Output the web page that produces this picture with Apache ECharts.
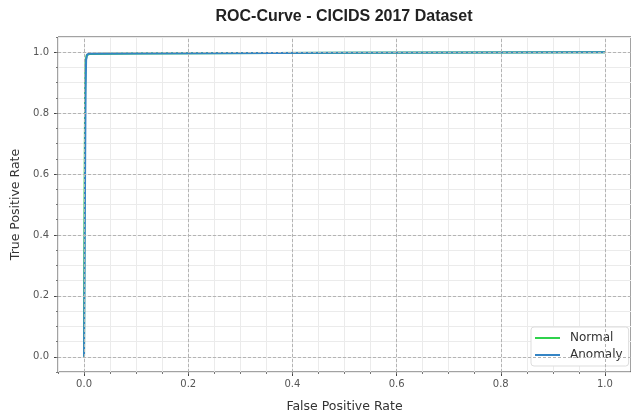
<!DOCTYPE html>
<html>
<head>
<meta charset="utf-8">
<script src="https://cdn.jsdelivr.net/npm/echarts@6/dist/echarts.min.js"></script>
<style>
html,body{margin:0;padding:0;background:#fff;}
#chart{width:631px;height:419px;}
</style>
</head>
<body>
<div id="chart"></div>
<script>
// Data
const titleText = "ROC-Curve - CICIDS 2017 Dataset";
const seriesNames = ["Normal", "Anomaly"];
const fprNormal = [0, 0.001, 0.002, 0.003, 0.005, 0.01, 0.1, 0.5, 1.0];
const tprNormal = [0, 0.55, 0.85, 0.97, 0.99, 0.994, 0.996, 0.998, 1.0];
const fprAnomaly = [0, 0.002, 0.003, 0.004, 0.006, 0.01, 0.1, 0.5, 1.0];
const tprAnomaly = [0, 0.6, 0.88, 0.975, 0.993, 0.995, 0.996, 0.998, 1.0];
const xTicks = [0, 0.2, 0.4, 0.6, 0.8, 1.0];
const yTicks = [0, 0.2, 0.4, 0.6, 0.8, 1.0];

const pairs = (xs, ys) => xs.map((x, i) => [x, ys[i]]);
const chart = echarts.init(document.getElementById('chart'), null, {renderer: 'canvas'});
const tickFont = {fontFamily: 'DejaVu Sans', fontSize: 10, color: '#555'};
const nameFont = {fontFamily: 'DejaVu Sans', fontSize: 12.5, color: '#333'};

const gridMarks = xTicks.map(v => ({xAxis: v})).concat(yTicks.map(v => ({yAxis: v})));

const minorAxis = (pos) => ({
  type: 'value', min: -0.05, max: 1.05, interval: 0.05, position: pos,
  axisLine: {show: false, onZero: false},
  axisTick: {show: true, inside: false, length: 2, lineStyle: {color: '#777'}},
  axisLabel: {show: false},
  splitLine: {show: true, lineStyle: {color: '#ebebeb', width: 1}}
});

chart.setOption({
  animation: false,
  backgroundColor: '#fff',
  title: {
    text: titleText, left: 344, top: 9, padding: 0, textAlign: 'center',
    textStyle: {fontFamily: 'Liberation Sans', fontWeight: 'bold', fontSize: 16, color: '#222'}
  },
  grid: {left: 58, top: 37, right: -2, bottom: 47, show: true, borderColor: '#444', borderWidth: 1, backgroundColor: 'transparent'},
  legend: {
    data: seriesNames.map(n => ({name: n, icon: 'rect'})), orient: 'vertical', left: 531, top: 327,
    padding: [4, 6, 4, 4], itemWidth: 25, itemHeight: 2, itemGap: 3,
    backgroundColor: '#fff', borderColor: '#ddd', borderWidth: 1, borderRadius: 3,
    textStyle: {fontFamily: 'DejaVu Sans', fontSize: 12, color: '#333', lineHeight: 14, padding: [0, 0, 0, 5]}
  },
  xAxis: [{
    type: 'value', min: -0.05, max: 1.05, interval: 0.05, position: 'bottom',
    name: 'False Positive Rate', nameLocation: 'middle', nameGap: 28, nameTextStyle: nameFont,
    axisLine: {show: false, onZero: false},
    axisTick: {show: true, customValues: xTicks, length: 4, lineStyle: {color: '#444'}},
    axisLabel: Object.assign({customValues: xTicks, margin: 7, formatter: v => v.toFixed(1)}, tickFont),
    splitLine: {show: false}
  }, minorAxis('bottom')],
  yAxis: [{
    type: 'value', min: -0.05, max: 1.05, interval: 0.05, position: 'left',
    name: 'True Positive Rate', nameLocation: 'middle', nameGap: 34, nameRotate: 90, nameTextStyle: nameFont,
    axisLine: {show: false, onZero: false},
    axisTick: {show: true, customValues: yTicks, length: 4, lineStyle: {color: '#444'}},
    axisLabel: Object.assign({customValues: yTicks, margin: 9, formatter: v => v.toFixed(1)}, tickFont),
    splitLine: {show: false}
  }, minorAxis('left')],
  series: [
    {
      name: 'grid', type: 'line', data: [[0, 0]], symbol: 'none', z: 1, silent: true,
      lineStyle: {opacity: 0},
      markLine: {
        silent: true, symbol: 'none', label: {show: false}, animation: false,
        lineStyle: {type: [3, 2], color: '#b4b4b4', width: 1},
        emphasis: {disabled: true},
        data: gridMarks
      }
    },
    {
      name: seriesNames[0], type: 'line', data: pairs(fprNormal, tprNormal), symbol: 'none', z: 3,
      lineStyle: {color: '#2fd24c', width: 2}, itemStyle: {color: '#2fd24c'}
    },
    {
      name: seriesNames[1], type: 'line', data: pairs(fprAnomaly, tprAnomaly), symbol: 'none', z: 4,
      lineStyle: {color: '#3585c5', width: 2}, itemStyle: {color: '#3585c5'}
    }
  ]
});
</script>
</body>
</html>
